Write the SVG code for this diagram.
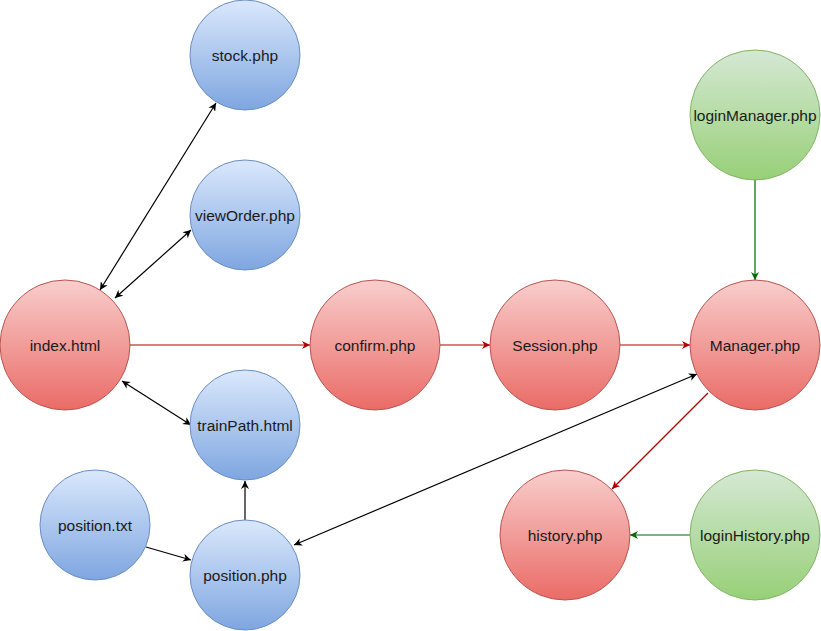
<svg xmlns="http://www.w3.org/2000/svg" width="821" height="631" viewBox="0 0 821 631">
<style>
.red{fill:url(#gRed);stroke:#b85450;stroke-width:1}
.blue{fill:url(#gBlue);stroke:#6c8ebf;stroke-width:1}
.green{fill:url(#gGreen);stroke:#82b366;stroke-width:1}
text{font-family:"Liberation Sans",Arial,sans-serif;font-size:15.5px;fill:#1a1a1a;text-anchor:middle;dominant-baseline:central}
.e{fill:none;stroke-width:1.2}
.k{stroke:#000}
.r{stroke:#b20000}
.g{stroke:#006600}
</style>
<defs>
<linearGradient id="gRed" x1="0" y1="0" x2="0" y2="1"><stop offset="0" stop-color="#f8cecc"/><stop offset="1" stop-color="#ea6b66"/></linearGradient>
<linearGradient id="gBlue" x1="0" y1="0" x2="0" y2="1"><stop offset="0" stop-color="#dae8fc"/><stop offset="1" stop-color="#7ea6e0"/></linearGradient>
<linearGradient id="gGreen" x1="0" y1="0" x2="0" y2="1"><stop offset="0" stop-color="#d5e8d4"/><stop offset="1" stop-color="#97d077"/></linearGradient>
<marker id="aK" viewBox="0 0 10 10" refX="10" refY="5" markerWidth="8" markerHeight="8" markerUnits="userSpaceOnUse" orient="auto-start-reverse"><path d="M0,0 L10,5 L0,10 L3,5 z" fill="#000"/></marker>
<marker id="aR" viewBox="0 0 10 10" refX="10" refY="5" markerWidth="8" markerHeight="8" markerUnits="userSpaceOnUse" orient="auto-start-reverse"><path d="M0,0 L10,5 L0,10 L3,5 z" fill="#b20000"/></marker>
<marker id="aG" viewBox="0 0 10 10" refX="10" refY="5" markerWidth="8" markerHeight="8" markerUnits="userSpaceOnUse" orient="auto-start-reverse"><path d="M0,0 L10,5 L0,10 L3,5 z" fill="#006600"/></marker>
</defs>
<g id="connectors">
<line class="e k" x1="100" y1="290" x2="216" y2="103" marker-start="url(#aK)" marker-end="url(#aK)"/>
<line class="e k" x1="115" y1="298" x2="191" y2="230" marker-start="url(#aK)" marker-end="url(#aK)"/>
<line class="e r" x1="130" y1="345" x2="310" y2="345" marker-end="url(#aR)"/>
<line class="e k" x1="122" y1="381" x2="191" y2="425" marker-start="url(#aK)" marker-end="url(#aK)"/>
<line class="e k" x1="146" y1="547" x2="191" y2="560" marker-end="url(#aK)"/>
<line class="e k" x1="245" y1="520" x2="245" y2="481" marker-end="url(#aK)"/>
<line class="e k" x1="294" y1="545" x2="697" y2="374" marker-start="url(#aK)" marker-end="url(#aK)"/>
<line class="e r" x1="440" y1="345" x2="490" y2="345" marker-end="url(#aR)"/>
<line class="e r" x1="620" y1="345" x2="690" y2="345" marker-end="url(#aR)"/>
<line class="e g" x1="755" y1="180" x2="755" y2="280" marker-end="url(#aG)"/>
<line class="e r" x1="708" y1="393" x2="612" y2="489" marker-end="url(#aR)"/>
<line class="e g" x1="690" y1="535" x2="630" y2="535" marker-end="url(#aG)"/>
</g>
<g id="stock"><circle class="blue" cx="245" cy="55" r="55"/><text x="245" y="55">stock.php</text></g>
<g id="viewOrder"><circle class="blue" cx="245" cy="215" r="55"/><text x="245" y="215">viewOrder.php</text></g>
<g id="index"><circle class="red" cx="65" cy="345" r="65"/><text x="65" y="345">index.html</text></g>
<g id="trainPath"><circle class="blue" cx="245" cy="425" r="55"/><text x="245" y="425">trainPath.html</text></g>
<g id="positionTxt"><circle class="blue" cx="95" cy="525" r="55"/><text x="95" y="525">position.txt</text></g>
<g id="positionPhp"><circle class="blue" cx="245" cy="575" r="55"/><text x="245" y="575">position.php</text></g>
<g id="confirm"><circle class="red" cx="375" cy="345" r="65"/><text x="375" y="345">confirm.php</text></g>
<g id="session"><circle class="red" cx="555" cy="345" r="65"/><text x="555" y="345">Session.php</text></g>
<g id="manager"><circle class="red" cx="755" cy="345" r="65"/><text x="755" y="345">Manager.php</text></g>
<g id="loginManager"><circle class="green" cx="755" cy="115" r="65"/><text x="755" y="115">loginManager.php</text></g>
<g id="history"><circle class="red" cx="565" cy="535" r="65"/><text x="565" y="535">history.php</text></g>
<g id="loginHistory"><circle class="green" cx="755" cy="535" r="65"/><text x="755" y="535">loginHistory.php</text></g>
</svg>
